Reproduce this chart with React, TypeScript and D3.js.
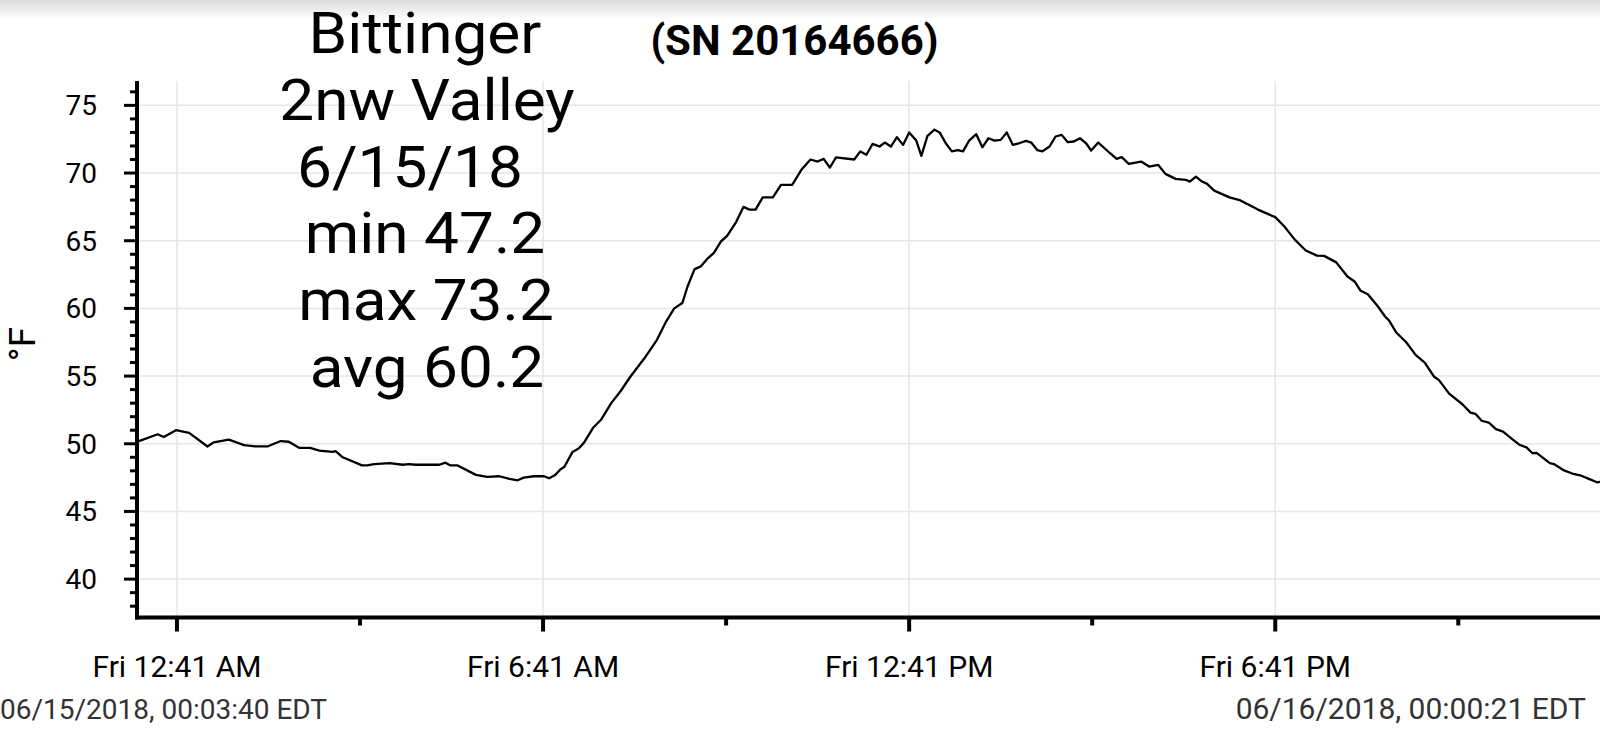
import React from "react";
import * as d3 from "d3";

// minutes since midnight, 06/15/2018 (EDT)
const minutes = [3.67, 22, 28, 40, 53, 71, 77, 92, 107, 118, 130, 143, 151, 161, 172, 181, 194, 197, 204, 223, 228, 235, 250, 263, 269, 276, 299, 305, 310, 317, 335, 346, 358, 368, 376, 382, 392, 402, 407, 413, 418, 422, 430, 436, 441, 450, 458, 468, 477, 487, 502, 513, 522, 530, 538, 543, 550, 556, 563, 569, 576, 582, 591, 598, 604, 610, 617, 627, 635, 646, 655, 664, 671, 677, 683, 689, 707, 713, 719, 725, 732, 737, 743, 749, 755, 761, 768, 773, 779, 786, 791, 797, 803, 809, 814, 820, 827, 833, 839, 845, 851, 857, 863, 869, 876, 881, 887, 892, 899, 905, 911, 917, 923, 929, 935, 940, 947, 958, 965, 970, 977, 989, 997, 1006, 1013, 1023, 1033, 1037, 1043, 1049, 1054, 1061, 1076, 1086, 1094, 1104, 1113, 1121, 1130, 1140, 1151, 1162, 1169, 1181, 1192, 1199, 1205, 1212, 1222, 1229, 1233, 1240, 1250, 1259, 1268, 1277, 1282, 1292, 1305, 1313, 1318, 1324, 1331, 1338, 1345, 1354, 1361, 1368, 1374, 1378, 1391, 1395, 1405, 1413, 1422, 1430, 1438, 1440.35];

const tempsF = [50.2, 50.7, 50.5, 51.0, 50.8, 49.8, 50.1, 50.3, 49.9, 49.8, 49.8, 50.2, 50.15, 49.7, 49.7, 49.5, 49.4, 49.45, 49.0, 48.4, 48.4, 48.5, 48.57, 48.45, 48.5, 48.45, 48.45, 48.6, 48.4, 48.4, 47.7, 47.55, 47.6, 47.4, 47.3, 47.5, 47.6, 47.6, 47.45, 47.7, 48.1, 48.3, 49.4, 49.65, 50.05, 51.16, 51.77, 53.0, 53.86, 54.97, 56.45, 57.68, 59.03, 60.0, 60.4, 61.6, 62.9, 63.1, 63.7, 64.1, 64.95, 65.36, 66.4, 67.5, 67.3, 67.3, 68.2, 68.2, 69.13, 69.13, 70.24, 71.0, 70.85, 71.05, 70.4, 71.15, 71.0, 71.6, 71.35, 72.15, 71.96, 72.25, 71.96, 72.65, 72.08, 73.0, 72.4, 71.27, 72.75, 73.2, 73.0, 72.2, 71.6, 71.7, 71.6, 72.4, 72.87, 71.9, 72.57, 72.4, 72.45, 73.0, 72.08, 72.2, 72.38, 72.25, 71.7, 71.6, 71.96, 72.7, 72.82, 72.28, 72.33, 72.57, 72.2, 71.66, 72.25, 71.5, 71.05, 71.17, 70.68, 70.85, 70.48, 70.6, 69.94, 69.57, 69.5, 69.37, 69.74, 69.37, 69.2, 68.7, 68.2, 68.0, 67.7, 67.3, 67.0, 66.74, 66.05, 65.1, 64.28, 63.9, 63.88, 63.4, 62.36, 61.99, 61.3, 61.05, 60.14, 59.4, 59.1, 58.22, 57.48, 56.57, 56.0, 54.97, 54.7, 53.7, 52.92, 52.3, 52.2, 51.7, 51.57, 51.08, 50.9, 50.35, 49.93, 49.73, 49.3, 49.33, 48.57, 48.5, 48.03, 47.8, 47.64, 47.39, 47.14, 47.2];

const majorTickMinutes = [41, 401, 761, 1121];
const minorTickMinutes = [221, 581, 941, 1301];
const yMajorTicks = [40, 45, 50, 55, 60, 65, 70, 75];
const yMinorTicks = d3.range(38, 77, 1).filter((v) => v % 5 !== 0);

const titleLines = ["Bittinger", "2nw Valley", "6/15/18", "min 47.2", "max 73.2", "avg 60.2"];
const serialLabel = "(SN 20164666)";
const yLabel = "°F";
const startLabel = "06/15/2018, 00:03:40 EDT";
const endLabel = "06/16/2018, 00:00:21 EDT";

const W = 1600;
const H = 739;
const FONT = "Roboto, 'Noto Sans', sans-serif";

const base = new Date(2018, 5, 15, 0, 0, 0).getTime();
const toDate = (m: number) => new Date(base + m * 60000);

export default function App() {
  const axisX = 137;
  const baseY = 617.5;
  const x = d3
    .scaleTime()
    .domain([toDate(minutes[0]), toDate(minutes[minutes.length - 1])])
    .range([139, 1600]);
  const y = d3.scaleLinear().domain([37.15, 76.8]).range([617.7, 81]);

  const data = minutes.map((m, i) => ({ t: toDate(m), v: tempsF[i] }));
  const line = d3
    .line<{ t: Date; v: number }>()
    .x((d) => x(d.t))
    .y((d) => y(d.v));

  const fmt = d3.timeFormat("%a %-I:%M %p");
  const titleX = [425, 427, 410, 425, 426, 427];
  const titleBase = [53, 120, 187, 253, 320, 387];
  const sx = 1.09;

  return (
    <svg
      width={W}
      height={H}
      style={{ position: "absolute", left: 0, top: 0, background: "#fff" }}
      fontFamily={FONT}
    >
      <defs>
        <linearGradient id="topShade" x1="0" y1="0" x2="0" y2="1">
          <stop offset="0" stopColor="#dcdcdc" />
          <stop offset="1" stopColor="#ffffff" />
        </linearGradient>
      </defs>
      <rect x={0} y={0} width={W} height={H} fill="#fff" />
      <rect x={0} y={0} width={W} height={20} fill="url(#topShade)" />

      {/* grid */}
      {yMajorTicks.map((v) => (
        <line key={"gy" + v} x1={axisX} x2={W} y1={y(v)} y2={y(v)} stroke="#e6e6e6" strokeWidth={1.5} />
      ))}
      {majorTickMinutes.map((m) => (
        <line key={"gx" + m} x1={x(toDate(m))} x2={x(toDate(m))} y1={y.range()[1]} y2={baseY} stroke="#e6e6e6" strokeWidth={1.5} />
      ))}

      {/* data line */}
      <path d={line(data) || ""} fill="none" stroke="#000" strokeWidth={2.3} strokeLinejoin="round" />

      {/* y axis */}
      <line x1={axisX} x2={axisX} y1={y.range()[1]} y2={baseY + 2} stroke="#000" strokeWidth={4} />
      {yMajorTicks.map((v) => (
        <line key={"ty" + v} x1={axisX - 13} x2={axisX} y1={y(v)} y2={y(v)} stroke="#000" strokeWidth={3} />
      ))}
      {yMinorTicks.map((v) => (
        <line key={"tmy" + v} x1={axisX - 7} x2={axisX} y1={y(v)} y2={y(v)} stroke="#000" strokeWidth={3} />
      ))}
      {yMajorTicks.map((v) => (
        <text key={"ly" + v} x={97} y={y(v)} dy="0.35em" textAnchor="end" fontSize={28} fill="#000">
          {v}
        </text>
      ))}
      <text transform={`translate(35,344) rotate(-90)`} textAnchor="middle" fontSize={37} fill="#000">
        {yLabel}
      </text>

      {/* x axis */}
      <line x1={axisX - 2} x2={W} y1={baseY} y2={baseY} stroke="#000" strokeWidth={4} />
      {majorTickMinutes.map((m) => (
        <line key={"tx" + m} x1={x(toDate(m))} x2={x(toDate(m))} y1={baseY} y2={baseY + 14} stroke="#000" strokeWidth={4} />
      ))}
      {minorTickMinutes.map((m) => (
        <line key={"tmx" + m} x1={x(toDate(m))} x2={x(toDate(m))} y1={baseY} y2={baseY + 8} stroke="#000" strokeWidth={4} />
      ))}
      {majorTickMinutes.map((m) => (
        <text key={"lx" + m} x={x(toDate(m))} y={677} textAnchor="middle" fontSize={30} fill="#000">
          {fmt(toDate(m))}
        </text>
      ))}

      {/* footer */}
      <text x={0} y={719} fontSize={28} fill="#333">
        {startLabel}
      </text>
      <text x={1586} y={719} textAnchor="end" fontSize={30} fill="#333">
        {endLabel}
      </text>

      {/* titles */}
      <g transform={`scale(${sx},1)`}>
        {titleLines.map((t, i) => (
          <text key={t} x={titleX[i] / sx} y={titleBase[i]} textAnchor="middle" fontSize={57} fill="#000">
            {t}
          </text>
        ))}
      </g>
      <text x={794.5} y={55} textAnchor="middle" fontSize={42} fontWeight="bold" fill="#000">
        {serialLabel}
      </text>
    </svg>
  );
}
